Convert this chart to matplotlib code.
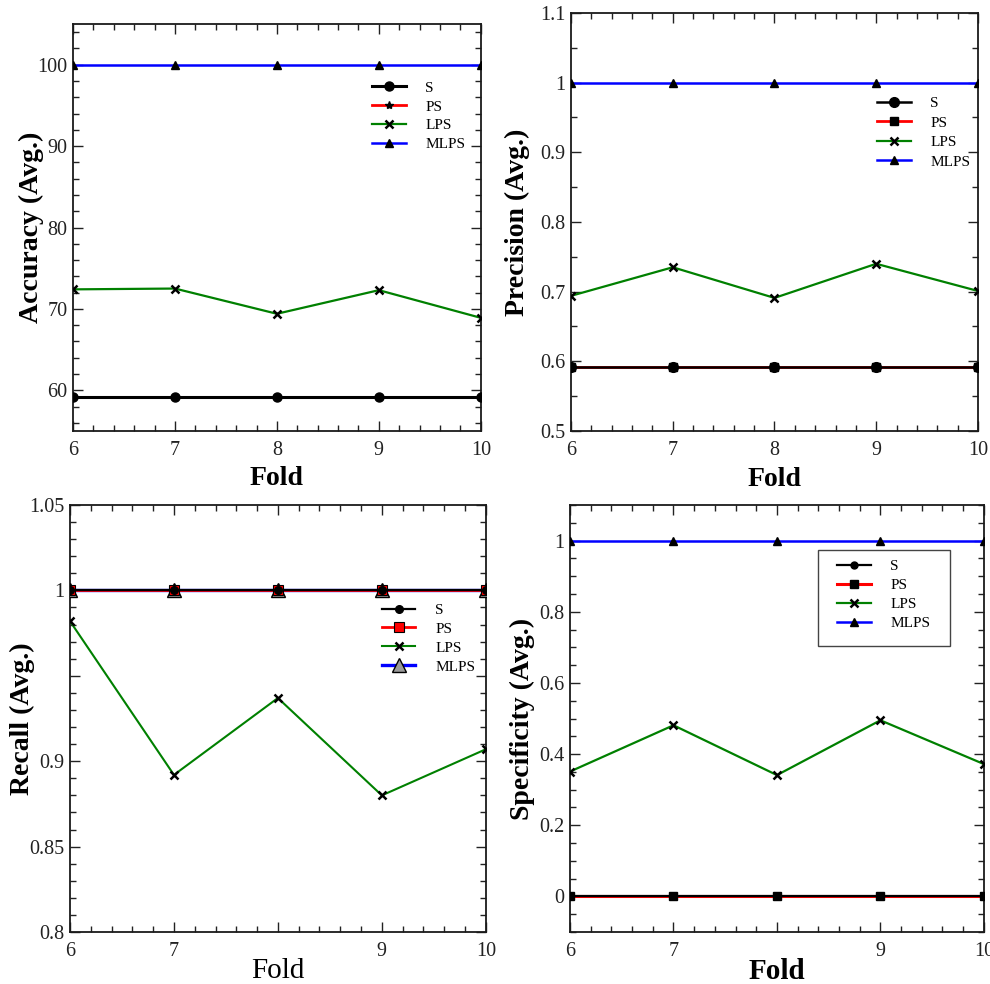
import matplotlib
matplotlib.use("Agg")
import matplotlib.pyplot as plt
from matplotlib.ticker import MultipleLocator, FixedLocator
from matplotlib.patches import Rectangle

plt.rcParams['font.family'] = ['Liberation Serif', 'DejaVu Serif']

# data
folds = [6, 7, 8, 9, 10]
labels = ['S', 'PS', 'LPS', 'MLPS']

acc_s = [59.2, 59.2, 59.2, 59.2, 59.2]
acc_ps = [59.2, 59.2, 59.2, 59.2, 59.2]
acc_lps = [72.4, 72.5, 69.4, 72.3, 68.9]
acc_mlps = [100, 100, 100, 100, 100]

prec_s = [0.592, 0.592, 0.592, 0.592, 0.592]
prec_ps = [0.592, 0.592, 0.592, 0.592, 0.592]
prec_lps = [0.694, 0.735, 0.691, 0.740, 0.701]
prec_mlps = [1.0, 1.0, 1.0, 1.0, 1.0]

rec_s = [1.0, 1.0, 1.0, 1.0, 1.0]
rec_ps = [1.0, 1.0, 1.0, 1.0, 1.0]
rec_lps = [0.982, 0.892, 0.937, 0.880, 0.907]
rec_mlps = [1.0, 1.0, 1.0, 1.0, 1.0]

spec_s = [0.0, 0.0, 0.0, 0.0, 0.0]
spec_ps = [0.0, 0.0, 0.0, 0.0, 0.0]
spec_lps = [0.351, 0.481, 0.341, 0.495, 0.372]
spec_mlps = [1.0, 1.0, 1.0, 1.0, 1.0]

fig = plt.figure(figsize=(9.9, 9.84), dpi=100)


def style_axes(ax, ylim, ymajor, yminor, yticklabels=None, xticklabels=None):
    ax.set_xlim(6, 10)
    ax.set_ylim(*ylim)
    ax.xaxis.set_major_locator(MultipleLocator(1))
    ax.xaxis.set_minor_locator(MultipleLocator(0.2))
    ax.yaxis.set_major_locator(MultipleLocator(ymajor))
    ax.yaxis.set_minor_locator(MultipleLocator(yminor))
    ax.tick_params(which='both', direction='in', top=True, right=True,
                   colors='#222222', width=1.0)
    ax.tick_params(which='major', length=7, labelsize=14.5)
    ax.tick_params(which='minor', length=4)
    ax.tick_params(axis='x', which='major', pad=7)
    ax.tick_params(axis='y', which='major', pad=4)
    if yticklabels is not None:
        ticks = [t for t, _ in yticklabels]
        ax.yaxis.set_major_locator(FixedLocator(ticks))
        ax.set_yticklabels([s for _, s in yticklabels])
    else:
        ax.yaxis.set_major_formatter(plt.FuncFormatter(lambda v, p: f'{v:g}'))
    if xticklabels is not None:
        ax.set_xticks(folds)
        ax.set_xticklabels(xticklabels)
    for sp in ax.spines.values():
        sp.set_linewidth(1.3)
        sp.set_color('#1a1a1a')


# 1. Accuracy
ax1 = fig.add_axes([0.0737, 0.562, 0.412, 0.4136])
ax1.plot(folds, acc_ps, color='red', lw=2, marker='*', ms=6, mfc='black', mec='black', label='PS', zorder=3)
ax1.plot(folds, acc_s, color='black', lw=2.2, marker='o', ms=6.5, label='S', zorder=4)
ax1.plot(folds, acc_lps, color='#008000', lw=1.6, marker='x', ms=6, mew=1.8, mec='black', label='LPS', zorder=3)
ax1.plot(folds, acc_mlps, color='blue', lw=1.8, marker='^', ms=5.5, mfc='black', mec='black', label='MLPS', zorder=3)
style_axes(ax1, (55, 105), 10, 2)
ax1.set_ylabel('Accuracy (Avg.)', fontsize=20, fontweight='bold')
ax1.set_xlabel('Fold', fontsize=20, fontweight='bold')
ax1.yaxis.set_label_coords(-0.072, 0.5)
ax1.xaxis.set_label_coords(0.5, -0.085)
h, l = ax1.get_legend_handles_labels()
order = [1, 0, 2, 3]
ax1.legend([h[i] for i in order], [l[i] for i in order], loc='upper left',
           bbox_to_anchor=(0.733, 0.86), frameon=False, fontsize=11,
           handlelength=2.2, handletextpad=1.3, labelspacing=0.34, borderpad=0, borderaxespad=0)

# 2. Precision
ax2 = fig.add_axes([0.5768, 0.562, 0.411, 0.4248])
ax2.plot(folds, prec_ps, color='red', lw=2, marker='s', ms=5.5, mfc='black', mec='black', label='PS', zorder=3)
ax2.plot(folds, prec_s, color='black', lw=1.8, marker='o', ms=7, label='S', zorder=4)
ax2.plot(folds, prec_lps, color='#008000', lw=1.6, marker='x', ms=6, mew=1.8, mec='black', label='LPS', zorder=3)
ax2.plot(folds, prec_mlps, color='blue', lw=1.8, marker='^', ms=5.5, mfc='black', mec='black', label='MLPS', zorder=3)
style_axes(ax2, (0.5, 1.1), 0.1, 0.05)
ax2.set_ylabel('Precision (Avg.)', fontsize=20, fontweight='bold')
ax2.set_xlabel('Fold', fontsize=20, fontweight='bold')
ax2.yaxis.set_label_coords(-0.10, 0.5)
ax2.xaxis.set_label_coords(0.5, -0.087)
h, l = ax2.get_legend_handles_labels()
ax2.legend([h[i] for i in order], [l[i] for i in order], loc='upper left',
           bbox_to_anchor=(0.752, 0.80), frameon=False, fontsize=11,
           handlelength=2.2, handletextpad=1.3, labelspacing=0.38, borderpad=0, borderaxespad=0)

# 3. Recall
ax3 = fig.add_axes([0.0707, 0.0528, 0.420, 0.434])
ax3.plot(folds, rec_mlps, color='blue', lw=2.4, marker='^', ms=10, mfc='#9a9a9a', mec='black', mew=1, label='MLPS', zorder=3)
ax3.plot(folds, rec_ps, color='red', lw=2.0, marker='s', ms=7.5, mfc='red', mec='black', mew=0.8, label='PS', zorder=4)
ax3.plot(folds, rec_s, color='black', lw=1.6, marker='o', ms=5.5, label='S', zorder=5)
ax3.plot(folds, rec_lps, color='#008000', lw=1.5, marker='x', ms=5.5, mew=1.8, mec='black', label='LPS', zorder=3)
style_axes(ax3, (0.8, 1.05), 0.05, 0.01,
           yticklabels=[(0.8, '0.8'), (0.85, '0.85'), (0.9, '0.9'), (0.95, ''), (1.0, '1'), (1.05, '1.05')],
           xticklabels=['6', '7', '', '9', '10'])
ax3.set_ylabel('Recall (Avg.)', fontsize=20, fontweight='bold')
ax3.set_xlabel('Fold', fontsize=21)
ax3.yaxis.set_label_coords(-0.084, 0.5)
ax3.xaxis.set_label_coords(0.5, -0.060)
h, l = ax3.get_legend_handles_labels()
order3 = [2, 1, 3, 0]
ax3.legend([h[i] for i in order3], [l[i] for i in order3], loc='upper left',
           bbox_to_anchor=(0.75, 0.77), frameon=False, fontsize=11,
           handlelength=2.2, handletextpad=1.3, labelspacing=0.34, borderpad=0, borderaxespad=0)

# 4. Specificity
ax4 = fig.add_axes([0.5758, 0.0528, 0.418, 0.434])
ax4.plot(folds, spec_ps, color='red', lw=2.2, marker='s', ms=6, mfc='black', mec='black', label='PS', zorder=3)
ax4.plot(folds, spec_s, color='black', lw=1.6, marker='o', ms=5, label='S', zorder=4)
ax4.plot(folds, spec_lps, color='#008000', lw=1.6, marker='x', ms=6, mew=1.8, mec='black', label='LPS', zorder=3)
ax4.plot(folds, spec_mlps, color='blue', lw=1.8, marker='^', ms=5.5, mfc='black', mec='black', label='MLPS', zorder=3)
style_axes(ax4, (-0.1, 1.1), 0.2, 0.05, xticklabels=['6', '7', '', '9', '10'])
ax4.set_ylabel('Specificity (Avg.)', fontsize=20, fontweight='bold')
ax4.set_xlabel('Fold', fontsize=21, fontweight='bold')
ax4.yaxis.set_label_coords(-0.085, 0.5)
ax4.xaxis.set_label_coords(0.5, -0.060)
h, l = ax4.get_legend_handles_labels()
ax4.legend([h[i] for i in order], [l[i] for i in order], loc='upper left',
           bbox_to_anchor=(0.645, 0.872), frameon=False, fontsize=11,
           handlelength=2.2, handletextpad=1.3, labelspacing=0.34, borderpad=0, borderaxespad=0)
ax4.add_patch(Rectangle((0.599, 0.670), 0.319, 0.225, transform=ax4.transAxes,
                        fill=False, edgecolor='#444444', lw=1.0, zorder=6))

fig.savefig('out.png', dpi=100)
